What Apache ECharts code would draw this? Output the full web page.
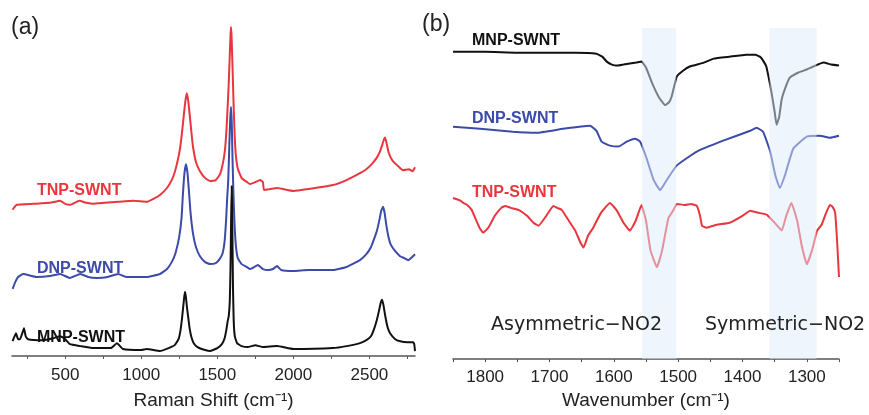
<!DOCTYPE html>
<html>
<head>
<meta charset="utf-8">
<script src="https://cdn.jsdelivr.net/npm/echarts@6/dist/echarts.min.js"></script>
<style>
  html, body { margin: 0; padding: 0; background: #fff; }
  #chart { width: 869px; height: 415px; }
</style>
</head>
<body>
<div id="chart"></div>
<script>
// (a) Raman spectra, [shift cm-1, offset intensity a.u.]
var ramanTNP = [[154,148],[181,153],[290,154],[400,155],[466,157],[500,154],[531,153],[593,157],[640,155],[683,154],[760,155],[848,156],[950,157],[1036,156],[1080,159],[1123,163],[1169,170],[1200,178],[1220,186],[1240,198],[1255,210],[1270,229],[1280,244],[1290,258],[1299,266],[1308,259],[1318,245],[1330,226],[1340,212],[1360,196],[1386,187],[1420,180],[1452,177],[1490,178],[1518,184],[1538,196],[1550,208],[1560,228],[1568,252],[1575,275],[1582,305],[1587,325],[1590,333],[1594,323],[1598,303],[1603,277],[1608,250],[1614,224],[1622,203],[1636,189],[1660,180],[1695,176],[1715,174],[1750,176],[1781,178],[1800,176],[1807,168],[1850,169],[1893,170],[2000,167],[2100,169],[2261,173],[2350,178],[2438,185],[2480,189],[2520,195],[2550,201],[2570,207],[2585,214],[2595,219],[2603,221],[2612,216],[2625,207],[2640,201],[2656,197],[2690,192],[2721,188],[2760,189],[2785,187],[2800,191]];
var ramanDNP = [[154,68],[172,75],[190,80],[223,83],[313,80],[400,81],[466,83],[531,79],[599,83],[650,80],[709,79],[780,80],[848,83],[900,80],[1036,80],[1123,83],[1169,88],[1200,95],[1225,104],[1250,121],[1265,140],[1274,164],[1284,185],[1294,194],[1304,185],[1314,166],[1324,145],[1340,124],[1360,110],[1386,101],[1420,95],[1452,93],[1490,94],[1515,98],[1535,104],[1548,116],[1558,138],[1565,160],[1572,178],[1580,218],[1585,240],[1590,252],[1595,236],[1600,200],[1606,165],[1613,135],[1622,112],[1635,99],[1660,93],[1695,90],[1715,88],[1768,92],[1800,88],[1835,87],[1865,88],[1893,91],[1920,87],[2000,86],[2100,87],[2261,87],[2350,90],[2438,97],[2480,103],[2510,110],[2530,118],[2550,127],[2565,137],[2578,147],[2590,151],[2600,145],[2612,132],[2625,121],[2640,113],[2670,106],[2702,101],[2730,99],[2756,97],[2780,100],[2800,103]];
var ramanMNP = [[154,15],[176,23],[190,17],[203,17],[229,28],[240,20],[255,17],[354,16],[420,18],[466,20],[500,17],[531,12],[600,10],[683,8],[800,8],[840,13],[880,7],[1000,6],[1036,7],[1123,5],[1180,8],[1220,11],[1245,17],[1258,26],[1268,38],[1276,50],[1282,59],[1288,65],[1294,59],[1300,50],[1308,40],[1318,28],[1330,19],[1345,13],[1370,9],[1420,6],[1452,5],[1500,8],[1530,12],[1548,18],[1560,27],[1568,35],[1575,40],[1582,55],[1587,90],[1591,140],[1595,172],[1599,130],[1603,70],[1608,35],[1615,20],[1630,13],[1660,10],[1700,9],[1750,11],[1800,9],[1893,10],[2000,7],[2261,8],[2350,10],[2438,13],[2480,16],[2510,20],[2530,27],[2550,37],[2565,47],[2575,54],[2583,57],[2592,52],[2605,40],[2620,29],[2636,23],[2670,17],[2702,15],[2750,14],[2787,14],[2795,12],[2800,5]];

// (b) IR spectra, [wavenumber cm-1, offset transmittance a.u.]
var irMNP = [[1850,311],[1800,311],[1750,310],[1700,310],[1660,310],[1627,309],[1618,306],[1611,301],[1603,298],[1596,297],[1585,298],[1575,299],[1565,300],[1557,301],[1550,295],[1541,280],[1530,265],[1520,257],[1514,260],[1510,266],[1502,286],[1492,292],[1482,296],[1460,300],[1445,304],[1420,306],[1394,308],[1380,308],[1373,306],[1368,302],[1363,296],[1355,270],[1350,250],[1347,237],[1343,245],[1339,263],[1332,277],[1326,285],[1313,290],[1300,293],[1290,296],[1274,300],[1262,298],[1250,297]];
var irDNP = [[1850,235],[1808,233],[1757,230],[1720,229],[1679,233],[1637,236],[1627,231],[1619,220],[1606,216],[1593,215],[1580,220],[1567,223],[1559,220],[1549,203],[1538,181],[1528,171],[1518,181],[1502,196],[1471,210],[1430,221],[1388,231],[1378,234],[1368,230],[1357,210],[1349,186],[1342,173],[1334,186],[1321,213],[1300,225],[1280,226],[1264,224],[1250,226]];
var irTNP = [[1850,163],[1845,162],[1838,160],[1834,158],[1828,156],[1821,151],[1815,142],[1808,132],[1803,128],[1795,133],[1785,145],[1775,153],[1769,155],[1760,153],[1748,151],[1735,145],[1725,138],[1717,135],[1705,145],[1694,155],[1688,153],[1681,151],[1670,140],[1660,130],[1652,118],[1647,113],[1640,125],[1632,133],[1620,148],[1606,158],[1595,150],[1585,138],[1575,130],[1566,140],[1557,156],[1550,140],[1543,110],[1533,93],[1525,110],[1515,143],[1508,150],[1502,157],[1490,156],[1480,157],[1471,155],[1466,145],[1463,135],[1456,133],[1440,136],[1420,138],[1400,145],[1388,150],[1375,148],[1362,146],[1350,138],[1339,130],[1332,145],[1324,158],[1315,140],[1308,115],[1300,96],[1292,110],[1284,130],[1277,136],[1270,148],[1264,156],[1260,154],[1256,148],[1253,120],[1250,83]];

// NO2 stretch bands (wavenumber ranges)
var no2Bands = [[1556, 1503], [1358, 1285]];

var ramanTicks = [250, 500, 750, 1000, 1250, 1500, 1750, 2000, 2250, 2500, 2750];
var ramanLabels = [500, 1000, 1500, 2000, 2500];
var irLabels = [1800, 1700, 1600, 1500, 1400, 1300];

var RED = '#e8363e', BLUE = '#3c4aa8', BLACK = '#111111';

var myChart = echarts.init(document.getElementById('chart'));

function spectrum(data, color, idx) {
    return {
        type: 'line',
        data: data,
        xAxisIndex: idx,
        yAxisIndex: idx,
        showSymbol: false,
        smooth: 0.12,
        lineStyle: {color: color, width: 2},
        itemStyle: {color: color},
        z: 3
    };
}

function axisBase() {
    return {
        type: 'value',
        splitLine: {show: false},
        axisLine: {lineStyle: {color: '#555', width: 1.5}},
        axisTick: {show: true, length: 3, lineStyle: {color: '#555'}},
        axisLabel: {
            color: '#222', fontFamily: 'Liberation Sans, Arial', fontSize: 17,
            formatter: function (v) { return String(v); }
        },
        nameLocation: 'middle',
        nameTextStyle: {color: '#222', fontFamily: 'Liberation Sans, Arial', fontSize: 19}
    };
}

var xa = axisBase();
xa.gridIndex = 0;
xa.min = 150;
xa.max = 2800;
xa.name = 'Raman Shift (cm\u207B\u00B9)';
xa.nameGap = 35;
xa.axisTick.customValues = ramanTicks;
xa.axisLabel.customValues = ramanLabels;
xa.axisLabel.margin = 11;

var xb = axisBase();
xb.gridIndex = 1;
xb.min = 1250;
xb.max = 1850;
xb.inverse = true;
xb.interval = 50;
xb.name = 'Wavenumber (cm\u207B\u00B9)';
xb.nameGap = 25;
xb.axisLabel.customValues = irLabels;
xb.axisLabel.margin = 10;

function label(text, x, y, color, font) {
    return {type: 'text', left: x, top: y, silent: true, z: 100,
        style: {text: text, fill: color, font: font}};
}
var boldFont = 'bold 16px "Liberation Sans", Arial';

var option = {
    animation: false,
    backgroundColor: '#fff',
    grid: [
        {left: 12, right: 454, top: 20, bottom: 56},
        {left: 453, right: 30, top: 28, bottom: 52}
    ],
    xAxis: [xa, xb],
    yAxis: [
        {type: 'value', gridIndex: 0, min: 0, max: 340, show: false},
        {type: 'value', gridIndex: 1, min: 0, max: 335, show: false}
    ],
    series: [
        spectrum(ramanTNP, RED, 0),
        spectrum(ramanDNP, BLUE, 0),
        spectrum(ramanMNP, BLACK, 0),
        spectrum(irMNP, BLACK, 1),
        spectrum(irDNP, BLUE, 1),
        spectrum(irTNP, RED, 1),
        {
            // light bands drawn over the IR traces
            type: 'line',
            xAxisIndex: 1,
            yAxisIndex: 1,
            data: [],
            z: 10,
            markArea: {
                silent: true,
                z: 10,
                itemStyle: {color: 'rgba(222,236,250,0.5)'},
                data: no2Bands.map(function (b) {
                    return [{xAxis: b[0]}, {xAxis: b[1]}];
                })
            }
        }
    ],
    graphic: [
        label('(a)', 11, 16, '#222', '23px "Liberation Sans", Arial'),
        label('(b)', 422, 13, '#222', '23px "Liberation Sans", Arial'),
        label('TNP-SWNT', 37, 183, RED, boldFont),
        label('DNP-SWNT', 37, 261, BLUE, boldFont),
        label('MNP-SWNT', 37, 330, BLACK, boldFont),
        label('MNP-SWNT', 472, 33, BLACK, boldFont),
        label('DNP-SWNT', 472, 111, BLUE, boldFont),
        label('TNP-SWNT', 472, 185, RED, boldFont),
        label('Asymmetric\u2212NO2', 491, 316, '#222', '19px "DejaVu Sans"'),
        label('Symmetric\u2212NO2', 705, 316, '#222', '19px "DejaVu Sans"')
    ]
};

myChart.setOption(option);
</script>
</body>
</html>
